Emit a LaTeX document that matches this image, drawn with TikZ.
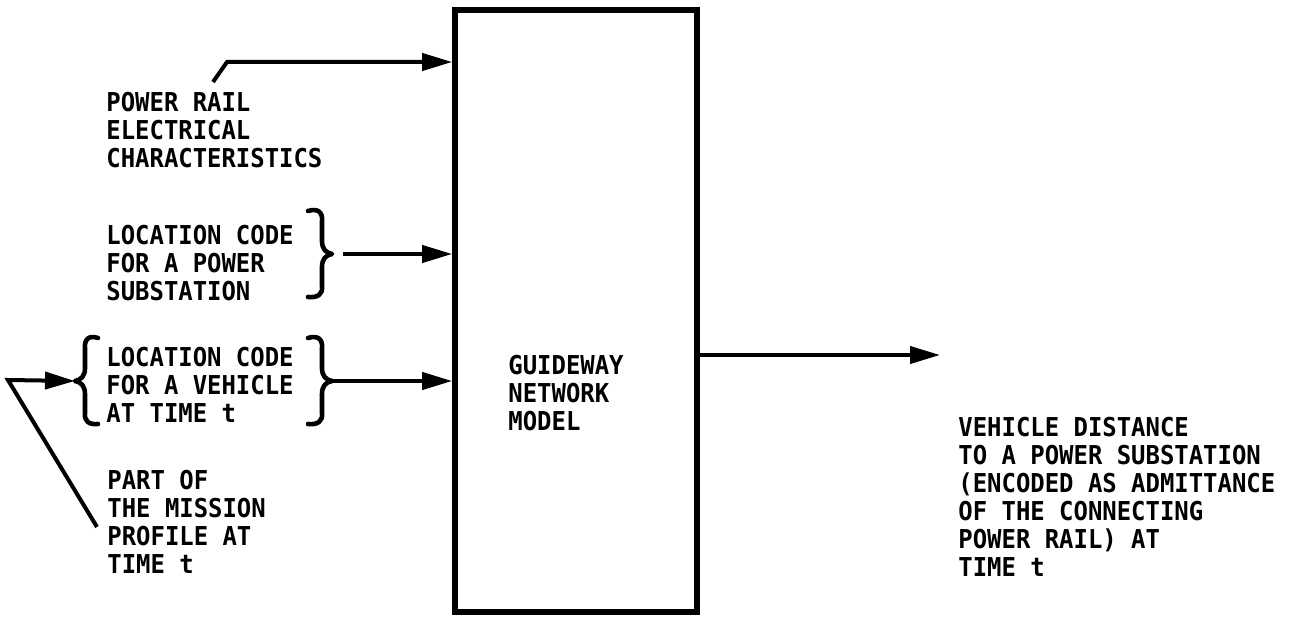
\documentclass[tikz,border=0pt]{standalone}
\usepackage{fontspec}
\newfontfamily\lblfont{DejaVu Sans Mono}[FakeStretch=0.92]
\usetikzlibrary{arrows.meta}
\begin{document}
\begin{tikzpicture}[x=0.5pt,y=-0.5pt,
  lbl/.style={font=\lblfont\bfseries\fontsize{13pt}{14pt}\selectfont,
    align=left, inner sep=0pt, anchor=base west},
  conn/.style={line width=2pt, -{Triangle[length=15pt,width=8.5pt]}},
  bracestyle/.style={line width=2.3pt, line cap=round, line join=round},
  modelbox/.style={draw, line width=2.8pt, minimum width=121pt,
    minimum height=301pt, inner sep=0pt}]
\useasboundingbox (0,0) rectangle (1290,620);

% main block
\node[modelbox] (box) at (576,311) {};
\node[lbl] (boxtxt) at (508,430) {GUIDEWAY\\NETWORK\\MODEL};

% input texts (anchored at the baseline of their last line)
\node[lbl] (t1) at (106,168) {POWER RAIL\\ELECTRICAL\\CHARACTERISTICS};
\node[lbl] (t2) at (106,300) {LOCATION CODE\\FOR A POWER\\SUBSTATION};
\node[lbl] (t3) at (106,422) {LOCATION CODE\\FOR A VEHICLE\\AT TIME t};
\node[lbl] (t4) at (107,573) {PART OF\\THE MISSION\\PROFILE AT\\TIME t};
\node[lbl] (t5) at (958,576) {VEHICLE DISTANCE\\TO A POWER SUBSTATION\\(ENCODED AS ADMITTANCE\\OF THE CONNECTING\\POWER RAIL) AT\\TIME t};

% braces
\coordinate (b2tip) at (332,254);
\draw[bracestyle] (308,211) .. controls (318,208) and (323,212) .. (322,222)
  -- (322,241) .. controls (322,249) and (326,253) .. (b2tip)
  .. controls (326,255) and (322,259) .. (322,267)
  -- (322,286) .. controls (323,294) and (318,298) .. (308,297);
\coordinate (b3tip) at (332,381);
\draw[bracestyle] (308,338) .. controls (318,335) and (323,339) .. (322,349)
  -- (322,368) .. controls (322,376) and (326,380) .. (b3tip)
  .. controls (326,382) and (322,386) .. (322,394)
  -- (322,413) .. controls (323,421) and (318,425) .. (308,424);
\coordinate (b3ltip) at (75,381);
\draw[bracestyle] (98,338) .. controls (89,335) and (84,339) .. (85,349)
  -- (85,368) .. controls (85,376) and (81,380) .. (b3ltip)
  .. controls (81,382) and (85,386) .. (85,394)
  -- (85,413) .. controls (84,421) and (89,425) .. (98,424);

% connectors
\coordinate (a1start) at (213,82);
\coordinate (a1bend) at (227,62);
\draw[conn] (a1start) -- (a1bend) -- (a1bend -| box.west);
\draw[conn] (343,254) -- (b2tip -| box.west);
\draw[conn] (b3tip) -- (b3tip -| box.west);
\coordinate (outtip) at (940,355);
\draw[conn] (outtip -| box.east) -- (outtip);
\coordinate (fbstart) at (97,527);
\coordinate (fbbend) at (8,380);
\draw[conn] (fbstart) -- (fbbend) -- (b3ltip);
\end{tikzpicture}
\end{document}
